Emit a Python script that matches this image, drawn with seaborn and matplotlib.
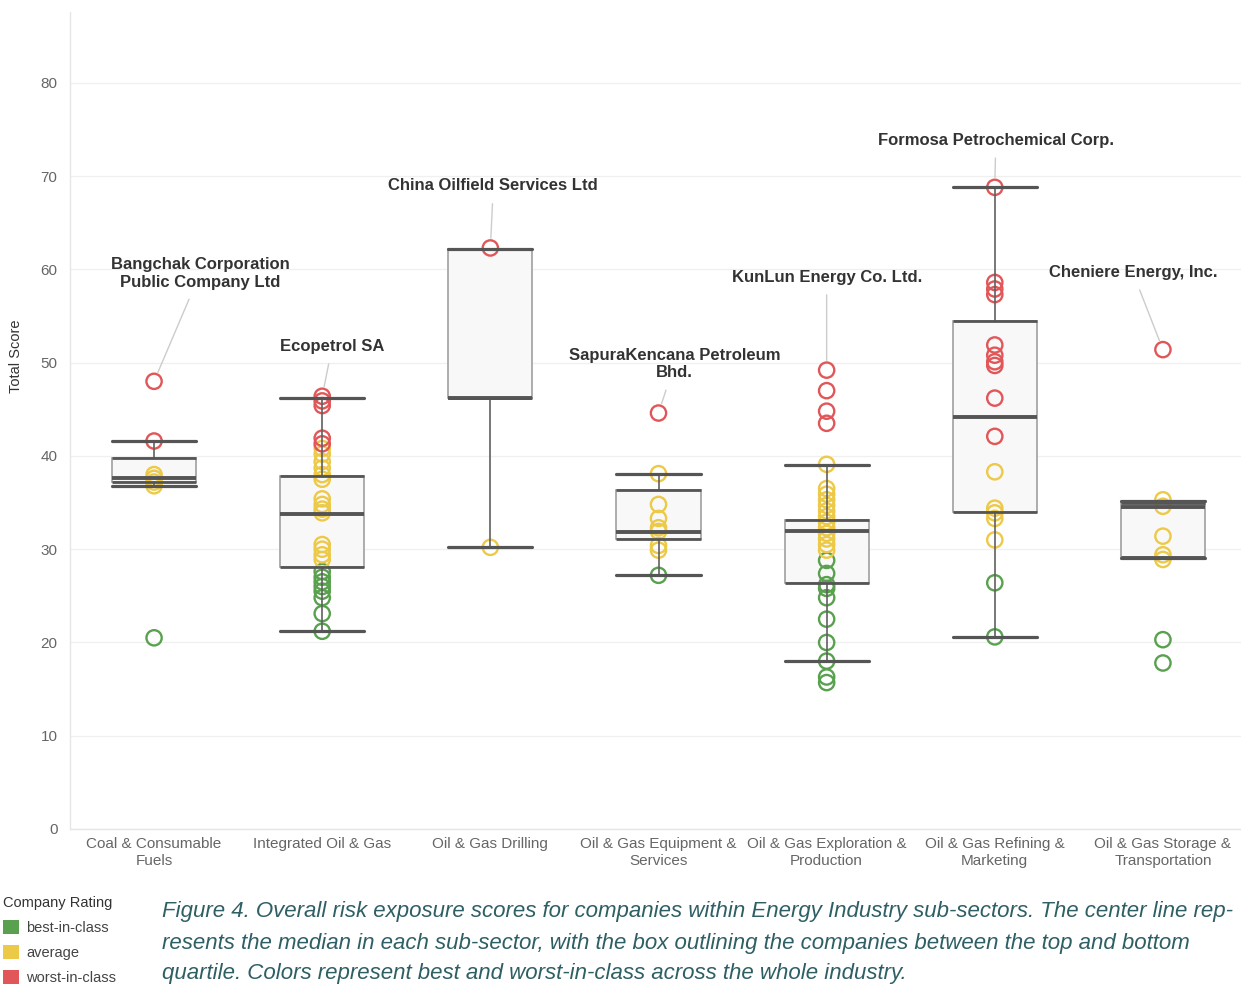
import numpy as np
import pandas as pd
import matplotlib
matplotlib.use("Agg")
import matplotlib.pyplot as plt
import seaborn as sns
from matplotlib.patches import Patch

# sub-sectors (x axis)
categories = ["Coal & Consumable Fuels", "Integrated Oil & Gas", "Oil & Gas Drilling",
              "Oil & Gas Equipment & Services", "Oil & Gas Exploration & Production",
              "Oil & Gas Refining & Marketing", "Oil & Gas Storage & Transportation"]
tick_labels = ["Coal & Consumable\nFuels", "Integrated Oil & Gas", "Oil & Gas Drilling",
               "Oil & Gas Equipment &\nServices", "Oil & Gas Exploration &\nProduction",
               "Oil & Gas Refining &\nMarketing", "Oil & Gas Storage &\nTransportation"]

# company scores per sub-sector, split by rating
worst_scores = [
    [48.0, 41.6],
    [46.4, 45.9, 45.4, 41.9, 41.3],
    [62.3],
    [44.6],
    [49.2, 47.0, 44.8, 43.5],
    [68.8, 58.6, 57.9, 57.3, 51.9, 50.8, 50.1, 49.7, 46.2, 42.1],
    [51.4],
]
average_scores = [
    [38.0, 37.6, 37.2, 36.8],
    [40.8, 40.2, 39.4, 38.7, 38.0, 37.5, 35.4, 34.8, 34.3, 33.9, 30.5, 30.0, 29.4, 28.9],
    [30.2],
    [38.1, 34.8, 33.3, 32.3, 31.9, 30.4, 29.9],
    [39.1, 36.5, 35.9, 35.3, 34.7, 34.1, 33.5, 32.9, 32.3, 31.7, 31.1, 30.5, 29.9],
    [38.3, 34.4, 33.9, 33.3, 31.0],
    [35.3, 34.6, 31.4, 29.4, 28.9],
]
best_scores = [
    [20.5],
    [27.6, 27.0, 26.5, 26.0, 25.5, 24.8, 23.1, 21.2],
    [],
    [27.2],
    [28.8, 27.4, 26.2, 25.8, 24.8, 22.5, 20.0, 18.0, 16.3, 15.7],
    [26.4, 20.6],
    [20.3, 17.8],
]

# box plot statistics as shown in the figure
box_q1 = [37.2, 28.1, 46.2, 31.1, 26.4, 34.0, 29.2]
box_median = [37.6, 33.8, 46.2, 31.8, 31.9, 44.2, 34.5]
box_q3 = [39.8, 37.8, 62.2, 36.4, 33.1, 54.5, 35.0]
whisker_low = [36.8, 21.2, 30.2, 27.2, 18.0, 20.6, 29.1]
whisker_high = [41.6, 46.2, 62.2, 38.1, 39.0, 68.8, 35.2]

# labelled companies: name, sub-sector index, score
callout_names = ["Bangchak Corporation\nPublic Company Ltd", "Ecopetrol SA", "China Oilfield Services Ltd",
                 "SapuraKencana Petroleum\nBhd.", "KunLun Energy Co. Ltd.", "Formosa Petrochemical Corp.",
                 "Cheniere Energy, Inc."]
callout_sector = [0, 1, 2, 3, 4, 5, 6]
callout_score = [48.0, 46.4, 62.3, 44.6, 49.2, 68.8, 51.4]

ratings = ["best-in-class", "average", "worst-in-class"]
rating_colors = ["#59a14f", "#edc948", "#e15759"]

rows = []
for i, cat in enumerate(categories):
    for rating, group in zip(ratings, [best_scores, average_scores, worst_scores]):
        for s in group[i]:
            rows.append({"sector": cat, "score": s, "rating": rating})
df = pd.DataFrame(rows)

sns.set_theme(style="white")
plt.rcParams["font.family"] = ["Liberation Sans", "DejaVu Sans"]

fig = plt.figure(figsize=(12.41, 9.85), dpi=100)
ax = fig.add_axes([70 / 1241, 156 / 985, 1177 / 1241, 817 / 985])

sns.stripplot(data=df, x="sector", y="score", hue="rating", order=categories,
              hue_order=ratings, palette=rating_colors, jitter=False, size=11,
              linewidth=1.7, ax=ax, legend=False, zorder=2)
# hollow circles
for coll in ax.collections:
    fc = coll.get_facecolors()
    coll.set_edgecolors(fc)
    coll.set_facecolors("none")

stats = []
for i in range(len(categories)):
    stats.append(dict(med=box_median[i], q1=box_q1[i], q3=box_q3[i],
                      whislo=whisker_low[i], whishi=whisker_high[i], fliers=[]))
pos = np.arange(len(categories))
box_w = 0.5

# box fill behind the points
ax.bxp(stats, positions=pos, widths=box_w, patch_artist=True, showcaps=False,
       manage_ticks=False, zorder=1,
       boxprops=dict(facecolor="#f8f8f8", edgecolor="#a0a0a0", linewidth=1.2),
       whiskerprops=dict(linewidth=0), medianprops=dict(linewidth=0))
# lines in front
ax.bxp(stats, positions=pos, widths=box_w, capwidths=box_w, showbox=False,
       manage_ticks=False, zorder=3,
       whiskerprops=dict(color="#606060", linewidth=1.2),
       capprops=dict(color="#555555", linewidth=2.3),
       medianprops=dict(color="#555555", linewidth=2.8))
ax.hlines(box_q1, pos - box_w / 2, pos + box_w / 2, color="#555555", linewidth=2.0, zorder=3)
ax.hlines(box_q3, pos - box_w / 2, pos + box_w / 2, color="#555555", linewidth=2.0, zorder=3)

# callouts
offsets = [(46, 108), (10, 50), (3, 62), (16, 49), (0, 93), (1, 47), (-30, 77)]
for name, si, sc, off in zip(callout_names, callout_sector, callout_score, offsets):
    ax.annotate(name, xy=(si, sc), xytext=off, textcoords="offset pixels",
                ha="center", va="center", fontsize=12, fontweight="bold", color="#333333",
                arrowprops=dict(arrowstyle="-", color="#cccccc", lw=1, shrinkA=5, shrinkB=7),
                zorder=4)

ax.set_xlim(-0.5, len(categories) - 0.5)
ax.set_ylim(0, 87.6)
ax.set_yticks(range(0, 81, 10))
ax.set_xticks(pos)
ax.set_xticklabels(tick_labels)
ax.set_xticks(pos[:-1] + 0.5, minor=True)
ax.tick_params(axis="x", which="major", length=0, pad=6, labelsize=11, labelcolor="#666666")
ax.tick_params(axis="x", which="minor", length=6, width=1, color="#e6e6e6", direction="out")
ax.tick_params(axis="y", length=0, pad=9, labelsize=11, labelcolor="#666666")
ax.grid(axis="y", color="#f0f0f0", linewidth=1)
ax.grid(axis="x", visible=False)
ax.set_axisbelow(True)
for side in ["top", "right"]:
    ax.spines[side].set_visible(False)
for side in ["left", "bottom"]:
    ax.spines[side].set_color("#e6e6e6")
    ax.spines[side].set_linewidth(1)
ax.set_xlabel("")
ax.set_ylabel("Total Score", fontsize=10.5, color="#333333")
ax.yaxis.set_label_coords(-0.04, 0.579)

# legend
handles = [Patch(facecolor=c, edgecolor="none") for c in rating_colors]
leg = fig.legend(handles, ratings, loc="upper left", bbox_to_anchor=(3 / 1241, 1 - 896 / 985),
                 frameon=False, title="Company Rating", fontsize=10.5, title_fontsize=10.5,
                 handlelength=1.1, handleheight=1.1, handletextpad=0.5, labelspacing=0.68,
                 borderpad=0, borderaxespad=0, alignment="left")
for t in leg.get_texts():
    t.set_color("#444444")
leg.get_title().set_color("#333333")

# caption
caption = ["Figure 4. Overall risk exposure scores for companies within Energy Industry sub-sectors. The center line rep-",
           "resents the median in each sub-sector, with the box outlining the companies between the top and bottom",
           "quartile. Colors represent best and worst-in-class across the whole industry."]
for k, line in enumerate(caption):
    fig.text(162 / 1241, 1 - (912 + 31 * k) / 985, line, ha="left", va="center",
             fontsize=16, style="italic", color="#2e5f64")

fig.savefig("out.png", dpi=100)
